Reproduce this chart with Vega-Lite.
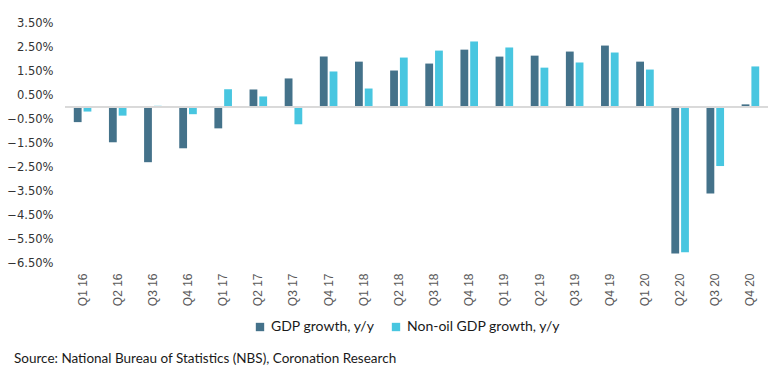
{
  "$schema": "https://vega.github.io/schema/vega-lite/v6.json",
  "width": 703,
  "height": 240,
  "autosize": {"type": "none"},
  "padding": {"left": 65, "top": 23, "right": 13, "bottom": 113},
  "background": "white",
  "config": {"view": {"stroke": null}, "font": "DejaVu Sans", "axis": {"labelOverlap": false}},
  "title": {
    "text": "Source: National Bureau of Statistics (NBS), Coronation Research",
    "orient": "bottom",
    "anchor": "start",
    "frame": "group",
    "dx": -51,
    "offset": 18,
    "font": "Lato",
    "fontSize": 13.5,
    "fontWeight": "normal",
    "color": "#1a1a1a"
  },
  "data": {
    "values": [
      {"q": "Q1 16", "s": "GDP growth, y/y", "v": -0.63},
      {"q": "Q1 16", "s": "Non-oil GDP growth, y/y", "v": -0.19},
      {"q": "Q2 16", "s": "GDP growth, y/y", "v": -1.47},
      {"q": "Q2 16", "s": "Non-oil GDP growth, y/y", "v": -0.36},
      {"q": "Q3 16", "s": "GDP growth, y/y", "v": -2.3},
      {"q": "Q3 16", "s": "Non-oil GDP growth, y/y", "v": 0.05},
      {"q": "Q4 16", "s": "GDP growth, y/y", "v": -1.72},
      {"q": "Q4 16", "s": "Non-oil GDP growth, y/y", "v": -0.3},
      {"q": "Q1 17", "s": "GDP growth, y/y", "v": -0.89},
      {"q": "Q1 17", "s": "Non-oil GDP growth, y/y", "v": 0.74},
      {"q": "Q2 17", "s": "GDP growth, y/y", "v": 0.73},
      {"q": "Q2 17", "s": "Non-oil GDP growth, y/y", "v": 0.44},
      {"q": "Q3 17", "s": "GDP growth, y/y", "v": 1.19},
      {"q": "Q3 17", "s": "Non-oil GDP growth, y/y", "v": -0.72},
      {"q": "Q4 17", "s": "GDP growth, y/y", "v": 2.1},
      {"q": "Q4 17", "s": "Non-oil GDP growth, y/y", "v": 1.48},
      {"q": "Q1 18", "s": "GDP growth, y/y", "v": 1.89},
      {"q": "Q1 18", "s": "Non-oil GDP growth, y/y", "v": 0.77},
      {"q": "Q2 18", "s": "GDP growth, y/y", "v": 1.52},
      {"q": "Q2 18", "s": "Non-oil GDP growth, y/y", "v": 2.06},
      {"q": "Q3 18", "s": "GDP growth, y/y", "v": 1.81},
      {"q": "Q3 18", "s": "Non-oil GDP growth, y/y", "v": 2.35},
      {"q": "Q4 18", "s": "GDP growth, y/y", "v": 2.39},
      {"q": "Q4 18", "s": "Non-oil GDP growth, y/y", "v": 2.73},
      {"q": "Q1 19", "s": "GDP growth, y/y", "v": 2.1},
      {"q": "Q1 19", "s": "Non-oil GDP growth, y/y", "v": 2.48},
      {"q": "Q2 19", "s": "GDP growth, y/y", "v": 2.14},
      {"q": "Q2 19", "s": "Non-oil GDP growth, y/y", "v": 1.64},
      {"q": "Q3 19", "s": "GDP growth, y/y", "v": 2.31},
      {"q": "Q3 19", "s": "Non-oil GDP growth, y/y", "v": 1.85},
      {"q": "Q4 19", "s": "GDP growth, y/y", "v": 2.56},
      {"q": "Q4 19", "s": "Non-oil GDP growth, y/y", "v": 2.27},
      {"q": "Q1 20", "s": "GDP growth, y/y", "v": 1.89},
      {"q": "Q1 20", "s": "Non-oil GDP growth, y/y", "v": 1.56},
      {"q": "Q2 20", "s": "GDP growth, y/y", "v": -6.1},
      {"q": "Q2 20", "s": "Non-oil GDP growth, y/y", "v": -6.05},
      {"q": "Q3 20", "s": "GDP growth, y/y", "v": -3.6},
      {"q": "Q3 20", "s": "Non-oil GDP growth, y/y", "v": -2.46},
      {"q": "Q4 20", "s": "GDP growth, y/y", "v": 0.11},
      {"q": "Q4 20", "s": "Non-oil GDP growth, y/y", "v": 1.69}
    ]
  },
  "layer": [
    {
      "mark": {"type": "bar"},
      "encoding": {
        "x": {
          "field": "q",
          "type": "nominal",
          "sort": null,
          "scale": {"paddingInner": 0.5, "paddingOuter": 0.25},
          "axis": {
            "title": null,
            "labelAngle": -90,
            "ticks": false,
            "domain": false,
            "labelPadding": 10,
            "labelFontSize": 12,
            "labelColor": "#595959",
            "labelFont": "Liberation Sans"
          }
        },
        "xOffset": {
          "field": "s",
          "type": "nominal",
          "sort": null,
          "scale": {"paddingInner": 0.2, "paddingOuter": 0}
        },
        "y": {
          "field": "v",
          "type": "quantitative",
          "scale": {"domain": [-6.5, 3.5], "nice": false, "zero": false},
          "axis": {
            "title": null,
            "values": [-6.5, -5.5, -4.5, -3.5, -2.5, -1.5, -0.5, 0.5, 1.5, 2.5, 3.5],
            "tickCount": 11,
            "labelExpr": "format(datum.value, '.2f') + '%'",
            "labelOverlap": false,
            "grid": false,
            "ticks": false,
            "domain": false,
            "labelPadding": 12,
            "labelFontSize": 11.5,
            "labelColor": "#333333",
            "labelFont": "DejaVu Sans"
          }
        },
        "color": {
          "field": "s",
          "type": "nominal",
          "sort": null,
          "scale": {
            "domain": ["GDP growth, y/y", "Non-oil GDP growth, y/y"],
            "range": ["#44728A", "#48C6E0"]
          },
          "legend": {
            "title": null,
            "orient": "none",
            "direction": "horizontal",
            "legendX": 188,
            "legendY": 297,
            "symbolType": "square",
            "symbolSize": 70,
            "symbolStrokeWidth": 0,
            "labelFont": "Lato",
            "labelFontSize": 14,
            "labelColor": "#1a1a1a",
            "columnPadding": 14,
            "labelOffset": 4
          }
        }
      }
    },
    {
      "mark": {"type": "rule", "color": "#d9d9d9", "strokeWidth": 1},
      "encoding": {"y": {"datum": 0, "type": "quantitative"}}
    }
  ]
}
